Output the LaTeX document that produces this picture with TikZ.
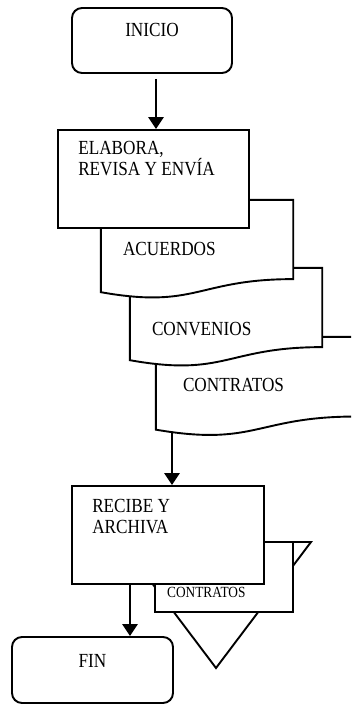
\documentclass[tikz,border=0pt]{standalone}
\usepackage{fontspec}
\setmainfont{Liberation Serif}[FakeStretch=0.86]
\usetikzlibrary{arrows.meta, positioning, calc}
\tikzset{
    proc/.style = {draw, rectangle, fill=white, line width=1.9pt, minimum width=191pt, minimum height=98pt, inner sep=0pt},
    term/.style = {draw, rectangle, rounded corners=10pt, fill=white, line width=1.9pt, minimum width=160pt, minimum height=65pt, inner sep=0pt},
    doc/.style = {rectangle, minimum width=192pt, minimum height=98.5pt, inner sep=0pt},
    wavy/.style = {draw, fill=white, line width=1.9pt, line join=miter},
    txt/.style = {inner sep=0pt, font=\fontsize{20}{21}\selectfont, align=left},
    small/.style = {inner sep=0pt, font=\fontsize{15.5}{15}\selectfont, align=left},
    arr/.style = {-{Triangle[length=12pt,width=15pt]}, line width=2.8pt}
}
% outline of a document symbol laid over the box of node #1
\newcommand{\docpath}[1]{%
    \draw[wavy] (#1.north west) -- (#1.north east) -- ($(#1.north east)!.802!(#1.south east)$)
        .. controls ($(#1.north)!.802!(#1.south)$) and ($(#1.north)!1.1075!(#1.south)$)
        .. ($(#1.north west)!.934!(#1.south west)$) -- cycle;}

\begin{document}
\begin{tikzpicture}[x=1pt, y=-1pt]
    \useasboundingbox (0,0) rectangle (351,707);
    \clip (0,0) rectangle (351,707);

    \node (inicio) [term] at (152,40.5) {};
    \node (inicio-t) [txt, below=16pt of inicio.north] {INICIO};

    % the three documents, last one at the bottom of the pile
    \node (contratos) [doc, minimum width=200pt, minimum height=99pt] at (256,386.5) {};
    \node (convenios) [doc] at (226,317.25) {};
    \node (acuerdos) [doc] at (197,249.25) {};
    \docpath{contratos}
    \docpath{convenios}
    \docpath{acuerdos}
    \node (acuerdos-t) [txt, below right=42pt and 22pt of acuerdos.north west] {ACUERDOS};
    \node (convenios-t) [txt, below right=54pt and 22pt of convenios.north west] {CONVENIOS};
    \node (contratos-t) [txt, below right=41pt and 27pt of contratos.north west] {CONTRATOS};

    \node (elabora) [proc] at (153.5,179) {};
    \node (elabora-t) [txt, below right=12pt and 21pt of elabora.north west] {ELABORA,\\REVISA Y ENV\'IA};

    % archive
    \draw[wavy] (121,542) -- (311,542) -- (216,668) -- cycle;
    \node (archivo) [draw, fill=white, line width=1.9pt, minimum width=138pt, minimum height=70pt, inner sep=0pt] at (224,577) {};
    \node (archivo-t) [small, anchor=south west] at (167,598) {ACUERDOS,\\CONVENIOS Y\\CONTRATOS};

    \node (recibe) [proc, minimum width=192pt] at (168,535) {};
    \node (recibe-t) [txt, below right=14pt and 21pt of recibe.north west] {RECIBE Y\\ARCHIVA};

    \node (fin) [term, minimum width=161pt, minimum height=66pt] at (92.5,670) {};
    \node (fin-t) [txt, below=18pt of fin.north] {FIN};

    \draw[arr, shorten <=5pt] ([xshift=4pt]inicio.south) -- ([xshift=4pt]inicio.south |- elabora.north);
    \draw[arr] ([xshift=-84pt, yshift=3pt]contratos.south) -- ([xshift=-84pt]contratos.south |- recibe.north);
    \draw[arr] ([xshift=-38pt]recibe.south) -- ([xshift=-38pt]recibe.south |- fin.north);
\end{tikzpicture}
\end{document}
